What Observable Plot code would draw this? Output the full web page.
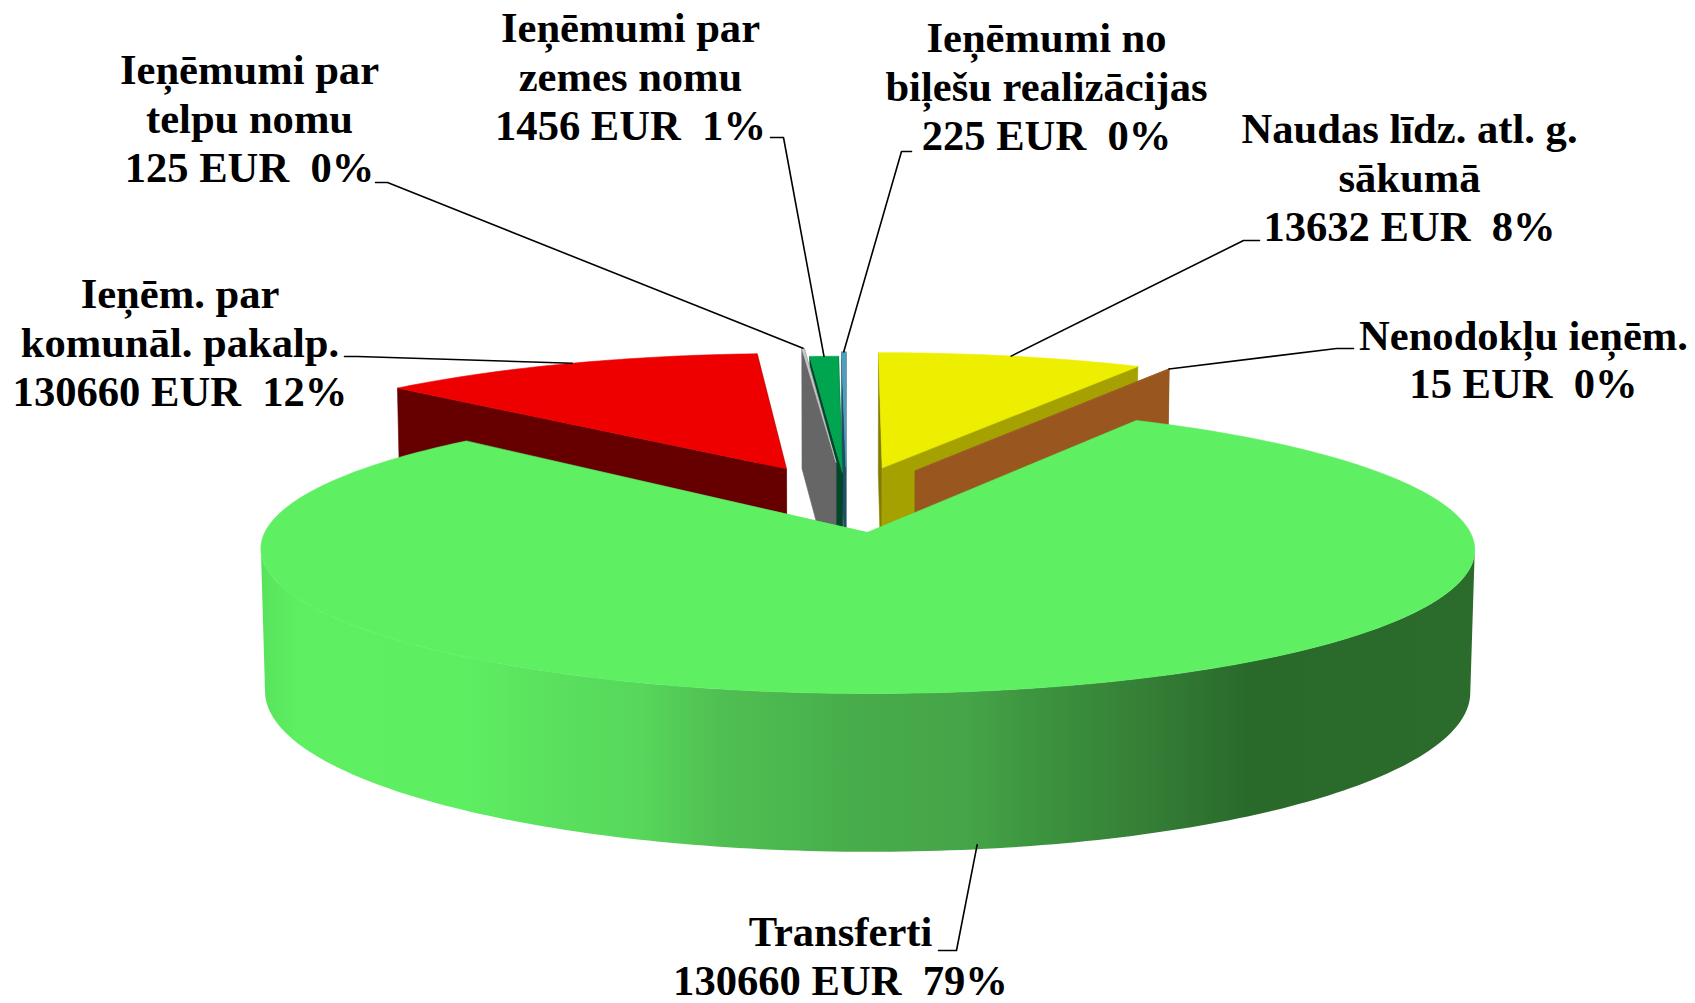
<!DOCTYPE html>
<html>
<head>
<meta charset="utf-8">
<style>html,body{margin:0;padding:0;background:#fff}svg{display:block}</style>
<script src="https://cdn.jsdelivr.net/npm/d3@7"></script>
<script src="https://cdn.jsdelivr.net/npm/@observablehq/plot@0.6"></script>
</head>
<body>
<div id="chart"></div>
<script>
// Slices, clockwise from 12 o'clock
const names = ["Naudas līdz. atl. g.\nsākumā", "Nenodokļu ieņēm.", "Transferti", "Ieņēm. par\nkomunāl. pakalp.", "Ieņēmumi par\ntelpu nomu", "Ieņēmumi par\nzemes nomu", "Ieņēmumi no\nbiļešu realizācijas"];
const printedValues = [13632, 15, 130660, 130660, 125, 1456, 225];
const percents = [8, 0, 79, 12, 0, 1, 0];
// The printed 130660 on the red slice disagrees with its 12%; its wedge follows the 12%.
const wedgeValues = [13632, 15, 130660, 19279, 125, 1456, 225];
const topColors = ["#EEEE00", "#A5612A", "#5EEF62", "#EE0000", "#C9C9C9", "#00A64F", "#4F9DBF"];
const wallColors = ["#A5A100", "#99571F", "#2B6B2C", "#660000", "#666666", "#00472A", "#1C4F63"];
const explode = [143, 143, 145, 147, 165, 118, 143];
const radii = [590, 590, 585.6, 590, 590, 590, 590];
const startNudge = [0, 0, 0, -1.5, 0, 0, 0];
const paintOrder = [3, 6, 5, 4, 0, 1, 2];

// Label layout
const labelX = [1409, 1523, 840, 179.5, 249, 630, 1046];
const labelY = [176, 358, 954.5, 341, 117, 75, 85];
const elbowFromX = [1259, 1353, 938, 344, 375, 770, 911];
const elbowToX = [1243, 1336, 956, 357, 387, 783, 901];
const elbowY = [240, 348, 950, 356, 182, 137, 151];
const tipNudge = [0, 0, -1, 0, 0, 0, 0];

// Shading of the round wall of the big slice
const wallStops = [[0, "#58E25C"], [0.03, "#5EEF62"], [0.17, "#5EEE62"], [0.24, "#5AE05E"], [0.31, "#57D85B"], [0.375, "#50C053"], [0.44, "#4AB64E"], [0.48, "#48AD4B"], [0.58, "#45A548"], [0.644, "#3C933E"], [0.728, "#357F37"], [0.813, "#296A2B"], [1, "#2B6B2C"]];

// Camera of the tilted pie
const cx = 846, cy = 498, H = 138, tilt = 0.229, k = 0.000197, m = 0.00005;
const rad = d => d * Math.PI / 180;
function project(X, Y, Z) {
  const s = 1 / (1 + k * Y + m * Z);
  return {x: cx + X * s, y: cy + (-Y * tilt + Z) * s};
}
const total = d3.sum(wedgeValues);
let run = 0;
const slices = names.map((name, i) => {
  const a0 = run / total * 360;
  run += wedgeValues[i];
  const a1 = run / total * 360;
  const mid = (a0 + a1) / 2;
  return {i, a0: a0 + startNudge[i], a1, mid, R: radii[i], ox: Math.sin(rad(mid)) * explode[i], oy: Math.cos(rad(mid)) * explode[i]};
});
const apex = (s, z = 0) => project(s.ox, s.oy, z);
const rim = (s, a, z = 0) => project(s.ox + s.R * Math.sin(rad(a)), s.oy + s.R * Math.cos(rad(a)), z);
const arc = (s, from, to, z = 0) => {
  const n = Math.max(1, Math.ceil(Math.abs(to - from)));
  return d3.range(n + 1).map(j => rim(s, from + (to - from) * j / n, z));
};
const poly = (pts, color, sw = 0.6) => Plot.line(pts, {x: "x", y: "y", fill: color, stroke: color, strokeWidth: sw, curve: "linear-closed"});
const radialWall = (s, a, color) => poly([apex(s), rim(s, a), rim(s, a, H), apex(s, H)], color);

const marks = [];
marks.push(() => {
  const defs = d3.create("svg:defs");
  const g = defs.append("linearGradient").attr("id", "roundWall");
  wallStops.forEach(([o, c]) => g.append("stop").attr("offset", o).attr("stop-color", c));
  return defs.node();
});

for (const idx of paintOrder) {
  const s = slices[idx];
  const dark = d3.color(wallColors[idx]).darker(0.7).formatHex();
  if (idx === 2) {
    // round front wall between the two silhouette extremes
    let aR = s.a0, aL = s.a1, xR = -Infinity, xL = Infinity;
    for (const p of d3.range(s.a0, s.a1, 0.5)) {
      const x = rim(s, p).x;
      if (x > xR) { xR = x; aR = p; }
      if (x < xL) { xL = x; aL = p; }
    }
    marks.push(poly([...arc(s, aR, aL), ...arc(s, aL, aR, H)], "url(#roundWall)", 0));
  } else if (Math.sin(rad(s.mid)) > 0) {
    marks.push(radialWall(s, s.a0, dark), radialWall(s, s.a1, wallColors[idx]));
  } else {
    marks.push(radialWall(s, s.a1, dark), radialWall(s, s.a0, wallColors[idx]));
  }
  marks.push(poly([apex(s), ...arc(s, s.a0, s.a1)], topColors[idx]));
}

// Leader lines
const leaders = slices.flatMap(s => {
  const a = s.mid + tipNudge[s.i];
  const tip = s.i === 2 ? rim(s, a, H - 4) : rim(s, a);
  return [
    {id: s.i, x: elbowFromX[s.i], y: elbowY[s.i]},
    {id: s.i, x: elbowToX[s.i], y: elbowY[s.i]},
    {id: s.i, x: tip.x, y: tip.y}
  ];
});
marks.push(Plot.line(leaders, {x: "x", y: "y", z: "id", stroke: "#000", strokeWidth: 1.6, curve: "linear"}));

const labels = slices.map(s => ({
  x: labelX[s.i], y: labelY[s.i],
  text: `${names[s.i]}\n${printedValues[s.i]} EUR  ${percents[s.i]}%`
}));
marks.push(Plot.text(labels, {
  x: "x", y: "y", text: "text",
  fontFamily: "Liberation Serif", fontWeight: 700, fontSize: 42.6, lineHeight: 1.14,
  textAnchor: "middle", lineAnchor: "middle", fill: "#000"
}));

const chart = Plot.plot({
  width: 1695, height: 1003, margin: 0,
  x: {domain: [0, 1695], range: [0, 1695], axis: null},
  y: {domain: [0, 1003], range: [0, 1003], axis: null},
  style: {background: "#fff", maxWidth: "none"},
  marks
});
document.getElementById("chart").append(chart);
</script>
</body>
</html>
